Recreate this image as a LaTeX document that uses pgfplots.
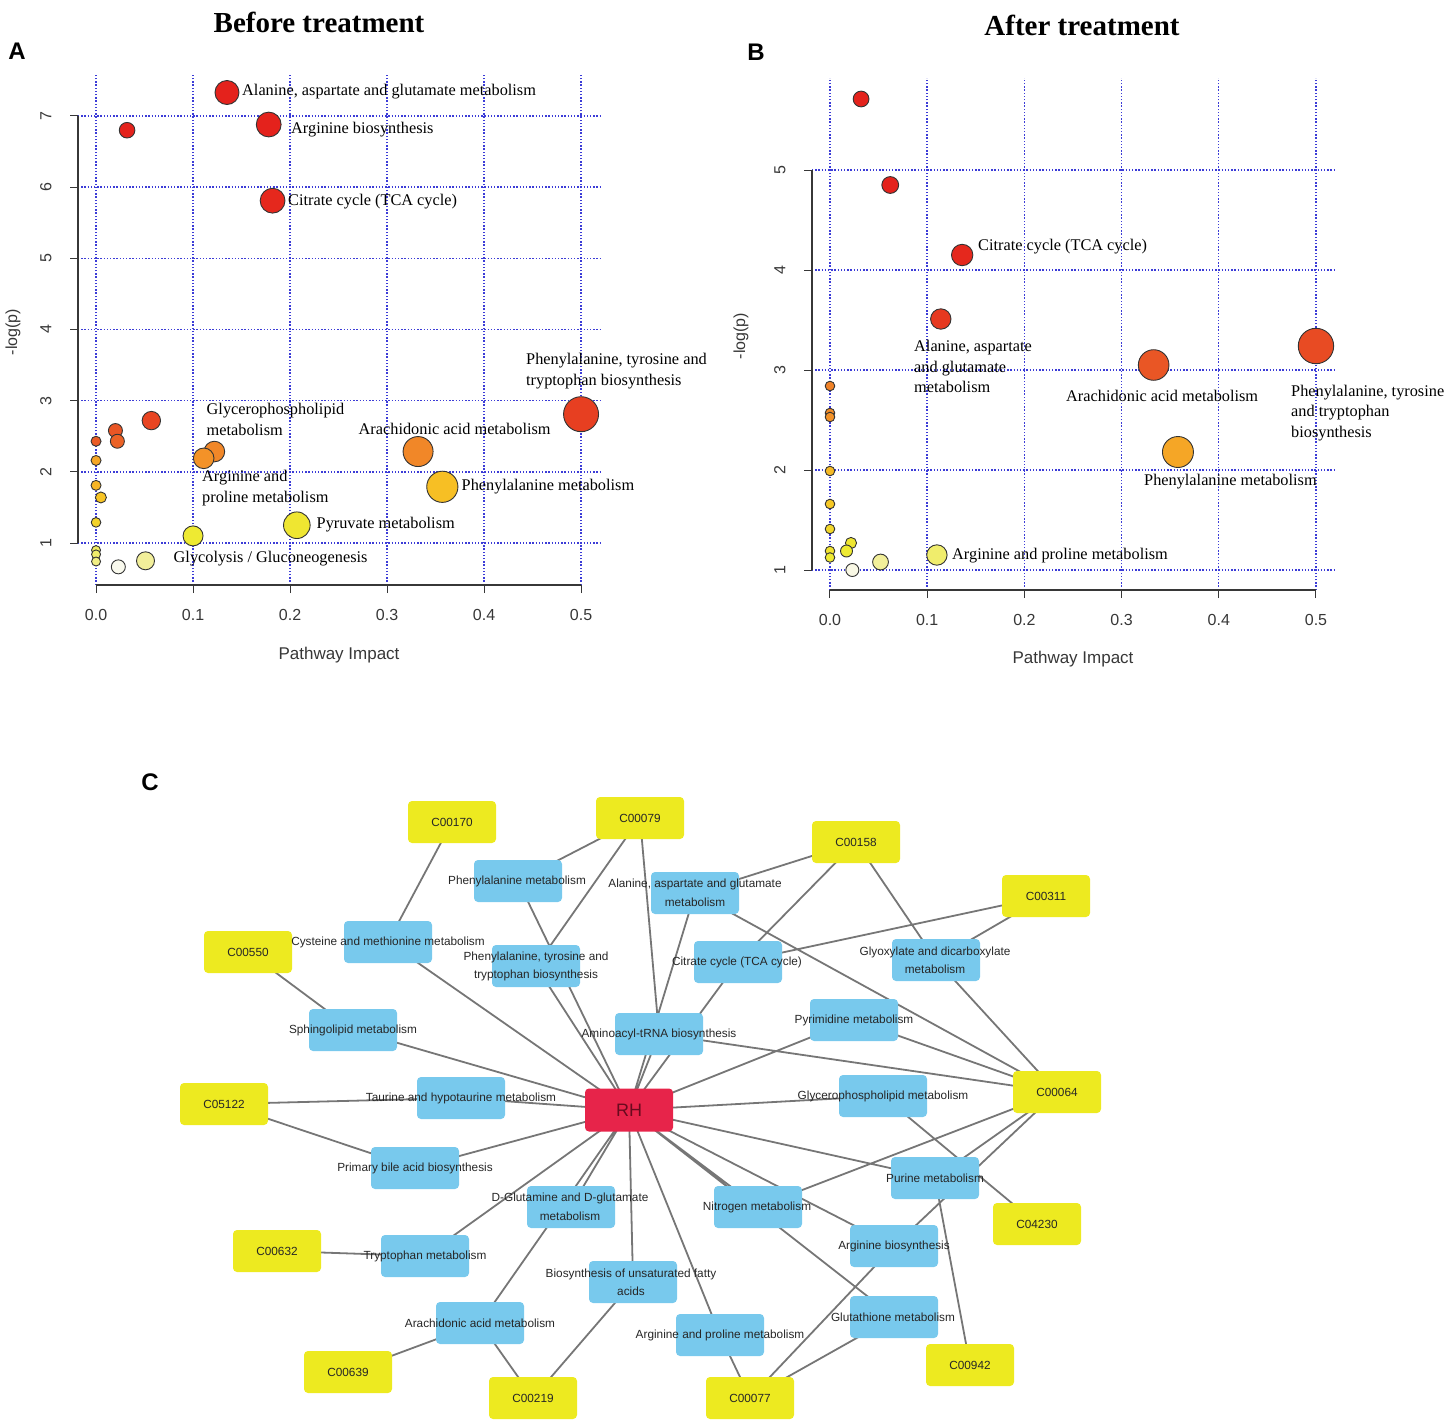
\documentclass[border=0pt]{standalone}
\usepackage{fontspec}
\setmainfont{Liberation Serif}
\setsansfont{Liberation Sans}
\usepackage{pgfplots}
\usepackage{pgfplotstable}
\pgfplotsset{compat=1.18}

\definecolor{gridblue}{RGB}{60,60,215}
\definecolor{axgray}{RGB}{55,55,55}
\definecolor{boxblue}{RGB}{120,201,237}
\definecolor{boxyellow}{RGB}{237,234,32}
\definecolor{boxred}{RGB}{231,36,74}
\definecolor{rhtext}{RGB}{105,10,30}
\definecolor{edgegray}{RGB}{118,118,118}

% Panel A: x = impact, y = -log(p), r = bubble radius (pt), c = colour index
\pgfplotstableread{
x      y      r     c
0.135  7.33   12.0  6.0
0.178  6.88   12.4  6.0
0.032  6.80   7.8   6.0
0.182  5.81   12.4  5.9
0.500  2.81   17.5  5.5
0.057  2.72   9.2   5.4
0.020  2.58   7.0   5.1
0.022  2.43   7.0   4.9
0.000  2.43   5.0   5.0
0.000  2.16   5.0   3.6
0.122  2.285  10.3  4.2
0.111  2.19   10.3  4.0
0.332  2.285  15.0  4.2
0.357  1.79   15.6  3.1
0.000  1.81   5.0   3.3
0.005  1.64   5.5   3.0
0.000  1.29   4.8   2.6
0.207  1.25   13.3  2.1
0.100  1.10   10.0  2.0
0.000  0.90   4.5   1.6
0.000  0.84   4.5   1.5
0.000  0.74   4.5   1.3
0.051  0.75   9.0   1.1
0.023  0.665  7.0   0.1
}\dataA

% Panel B
\pgfplotstableread{
x      y      r     c
0.032  5.71   7.9   6.0
0.062  4.85   8.4   6.0
0.136  4.15   10.7  5.9
0.114  3.51   10.2  5.6
0.333  3.05   15.3  5.1
0.500  3.24   17.7  5.3
0.358  2.18   15.5  3.6
0.000  2.84   4.8   4.3
0.000  2.57   4.8   4.1
0.000  2.53   4.8   4.0
0.000  1.99   4.8   3.2
0.000  1.66   4.8   2.9
0.000  1.41   4.8   2.5
0.000  1.19   4.8   2.2
0.000  1.125  4.8   2.0
0.0216 1.27   5.6   2.1
0.017  1.19   6.0   2.0
0.052  1.08   7.9   1.1
0.023  1.00   6.5   0.2
0.110  1.15   10.2  1.5
}\dataB

% Network nodes (x = pixel x, y = -pixel y)
\pgfplotstableread{
x     y      label
452   -822   C00170
640   -818   C00079
856   -842   C00158
1046  -896   C00311
248   -952   C00550
224   -1104  C05122
1057  -1092  C00064
1037  -1224  C04230
277   -1251  C00632
970   -1365  C00942
348   -1372  C00639
533   -1398  C00219
750   -1398  C00077
}\yellownodes

\pgfplotstableread{
x     y
518   -881
695   -893
388   -942
536   -966
738   -962
936   -960
353   -1030
659   -1034
854   -1020
461   -1098
883   -1096
415   -1168
571   -1207
758   -1207
935   -1178
894   -1246
425   -1256
633   -1282
894   -1317
480   -1323
720   -1335
}\blueboxes

\pgfplotstableread{
x     y      label
517   -881   {Phenylalanine metabolism}
695   -884   {Alanine, aspartate and glutamate}
695   -902   {metabolism}
388   -942   {Cysteine and methionine metabolism}
536   -957   {Phenylalanine, tyrosine and}
536   -975   {tryptophan biosynthesis}
737   -962   {Citrate cycle (TCA cycle)}
935   -952   {Glyoxylate and dicarboxylate}
935   -969   {metabolism}
353   -1030  {Sphingolipid metabolism}
659   -1034  {Aminoacyl-tRNA biosynthesis}
854   -1020  {Pyrimidine metabolism}
461   -1098  {Taurine and hypotaurine metabolism}
883   -1096  {Glycerophospholipid metabolism}
415   -1168  {Primary bile acid biosynthesis}
570   -1198  {D-Glutamine and D-glutamate}
570   -1216  {metabolism}
757   -1207  {Nitrogen metabolism}
935   -1178  {Purine metabolism}
894   -1246  {Arginine biosynthesis}
425   -1256  {Tryptophan metabolism}
631   -1274  {Biosynthesis of unsaturated fatty}
631   -1291  {acids}
893   -1317  {Glutathione metabolism}
480   -1323  {Arachidonic acid metabolism}
720   -1335  {Arginine and proline metabolism}
}\bluelabels

\pgfplotstableread{
x     y      label
629   -1110  RH
}\rhnode

\newcommand\lab{\fontsize{16.3}{20.5}\selectfont}
\newcommand\tickf{\sffamily\fontsize{16}{16}\selectfont}
\newcommand\netf{\sffamily\fontsize{11.8}{13}\selectfont}

\pgfplotsset{
  rplot/.style={
    scale only axis, width=524pt,
    axis x line*=bottom, axis y line*=left,
    axis line style={draw=none},
    tick align=outside,
    major tick length=8pt,
    tick style={axgray, line width=1pt},
    grid=major,
    major grid style={gridblue, line width=1.4pt, dash pattern=on 1.4pt off 1.8pt},
    /pgf/number format/assume math mode=true,
    xtick={0,0.1,0.2,0.3,0.4,0.5},
    xticklabels={0.0,0.1,0.2,0.3,0.4,0.5},
    xticklabel style={font=\tickf, text=axgray, yshift=-13pt},
    yticklabel style={font=\tickf, text=axgray, xshift=-15pt, rotate=90, anchor=south},
    clip=false,
    colormap={heat}{rgb255(0)=(250,250,245) rgb255(1)=(243,240,165) rgb255(2)=(238,234,50) rgb255(3)=(247,196,36) rgb255(4)=(243,146,40) rgb255(5)=(234,92,38) rgb255(6)=(228,34,28)},
    point meta min=0, point meta max=6,
  },
  bubbles/.style={scatter, only marks, mark=*, point meta=explicit,
    scatter/use mapped color={draw=black!80, fill=mapped color},
    visualization depends on={\thisrow{r} \as \rad},
    scatter/@pre marker code/.append style={/tikz/mark size=\rad},
    mark options={line width=0.9pt}},
}

\begin{document}
\begin{tikzpicture}
\useasboundingbox (0,0) rectangle (1449pt,-1427pt);

% ---------- Panel A ----------
\begin{axis}[rplot, at={(78pt,-585pt)}, anchor=south west, height=511pt,
  xmin=-0.0186, xmax=0.5216, ymin=0.41, ymax=7.59, ytick={1,2,3,4,5,6,7}]
\addplot[bubbles] table[x=x, y=y, meta=c] {\dataA};
\addplot[axgray, line width=1.1pt, mark=none] coordinates {(0,0.41) (0.5,0.41)};
\addplot[axgray, line width=1.1pt, mark=none] coordinates {(-0.0186,1) (-0.0186,7)};
\end{axis}

% ---------- Panel B ----------
\begin{axis}[rplot, at={(812pt,-590pt)}, anchor=south west, height=512pt,
  xmin=-0.0185, xmax=0.5206, ymin=0.8, ymax=5.92, ytick={1,2,3,4,5}]
\addplot[bubbles] table[x=x, y=y, meta=c] {\dataB};
\addplot[axgray, line width=1.1pt, mark=none] coordinates {(0,0.8) (0.5,0.8)};
\addplot[axgray, line width=1.1pt, mark=none] coordinates {(-0.0185,1) (-0.0185,5)};
\end{axis}

% ---------- Panel C (network) ----------
\begin{axis}[at={(0pt,-1427pt)}, anchor=south west, scale only axis,
  width=1449pt, height=727pt, xmin=0, xmax=1449, ymin=-1427, ymax=-700,
  hide axis, clip=false]
\addplot[edgegray, line width=1.8pt, mark=none, unbounded coords=jump] coordinates {
(452,-822) (388,-942) (nan,nan)
(640,-818) (518,-881) (nan,nan)
(640,-818) (536,-966) (nan,nan)
(640,-818) (659,-1034) (nan,nan)
(518,-881) (629,-1110) (nan,nan)
(536,-966) (629,-1110) (nan,nan)
(695,-893) (856,-842) (nan,nan)
(695,-893) (629,-1110) (nan,nan)
(695,-893) (1057,-1092) (nan,nan)
(738,-962) (856,-842) (nan,nan)
(738,-962) (1046,-896) (nan,nan)
(738,-962) (629,-1110) (nan,nan)
(936,-960) (856,-842) (nan,nan)
(936,-960) (1046,-896) (nan,nan)
(936,-960) (1057,-1092) (nan,nan)
(659,-1034) (1057,-1092) (nan,nan)
(854,-1020) (1057,-1092) (nan,nan)
(854,-1020) (629,-1110) (nan,nan)
(659,-1034) (629,-1110) (nan,nan)
(883,-1096) (629,-1110) (nan,nan)
(883,-1096) (1037,-1224) (nan,nan)
(935,-1178) (1057,-1092) (nan,nan)
(758,-1207) (1057,-1092) (nan,nan)
(894,-1246) (1057,-1092) (nan,nan)
(935,-1178) (970,-1365) (nan,nan)
(629,-1110) (935,-1178) (nan,nan)
(629,-1110) (758,-1207) (nan,nan)
(629,-1110) (894,-1246) (nan,nan)
(629,-1110) (894,-1317) (nan,nan)
(894,-1246) (750,-1398) (nan,nan)
(894,-1317) (750,-1398) (nan,nan)
(720,-1335) (750,-1398) (nan,nan)
(629,-1110) (720,-1335) (nan,nan)
(629,-1110) (633,-1282) (nan,nan)
(633,-1282) (533,-1398) (nan,nan)
(629,-1110) (571,-1207) (nan,nan)
(629,-1110) (480,-1323) (nan,nan)
(629,-1110) (425,-1256) (nan,nan)
(425,-1256) (277,-1251) (nan,nan)
(480,-1323) (348,-1372) (nan,nan)
(480,-1323) (533,-1398) (nan,nan)
(629,-1110) (415,-1168) (nan,nan)
(415,-1168) (224,-1104) (nan,nan)
(461,-1098) (629,-1110) (nan,nan)
(461,-1098) (224,-1104) (nan,nan)
(353,-1030) (629,-1110) (nan,nan)
(353,-1030) (248,-952) (nan,nan)
(388,-942) (629,-1110)
};
% blue pathway boxes
\addplot[draw=none, mark=none, nodes near coords={},
  every node near coord/.append style={anchor=center, fill=boxblue, draw=none,
    rounded corners=4pt, minimum width=88pt, minimum height=42pt, inner sep=0pt}]
  table[x=x, y=y] {\blueboxes};
% yellow compound boxes
\addplot[draw=none, mark=none, point meta=explicit symbolic, nodes near coords,
  every node near coord/.append style={anchor=center, fill=boxyellow, draw=none,
    rounded corners=4pt, minimum width=88pt, minimum height=42pt, inner sep=0pt,
    font=\netf, text=black!85}]
  table[x=x, y=y, meta=label] {\yellownodes};
% RH node
\addplot[draw=none, mark=none, point meta=explicit symbolic, nodes near coords,
  every node near coord/.append style={anchor=center, fill=boxred, draw=none,
    rounded corners=4pt, minimum width=88pt, minimum height=43pt, inner sep=0pt,
    font=\sffamily\fontsize{18}{18}\selectfont, text=rhtext}]
  table[x=x, y=y, meta=label] {\rhnode};
% pathway labels
\addplot[draw=none, mark=none, point meta=explicit symbolic, nodes near coords,
  every node near coord/.append style={anchor=center, inner sep=0pt,
    font=\netf, text=black!85}]
  table[x=x, y=y, meta=label] {\bluelabels};
\end{axis}

% ---------- titles, panel letters, axis labels ----------
\node[font=\bfseries\fontsize{29}{29}\selectfont] at (319pt,-22pt) {Before treatment};
\node[font=\bfseries\fontsize{29}{29}\selectfont] at (1082pt,-25pt) {After treatment};
\node[font=\sffamily\bfseries\fontsize{24}{24}\selectfont] at (17pt,-51pt) {A};
\node[font=\sffamily\bfseries\fontsize{24}{24}\selectfont] at (756pt,-52pt) {B};
\node[font=\sffamily\bfseries\fontsize{24}{24}\selectfont] at (150pt,-782pt) {C};

\node[font=\sffamily\fontsize{17}{17}\selectfont, text=axgray] at (339pt,-655pt) {Pathway Impact};
\node[font=\sffamily\fontsize{17}{17}\selectfont, text=axgray] at (1073pt,-659pt) {Pathway Impact};
\node[font=\sffamily\fontsize{16}{16}\selectfont, text=axgray, rotate=90] at (13pt,-332pt) {-log(p)};
\node[font=\sffamily\fontsize{16}{16}\selectfont, text=axgray, rotate=90] at (741pt,-336pt) {-log(p)};

% ---------- bubble labels A ----------
\begin{scope}[every node/.style={anchor=west, inner sep=0pt, font=\lab, align=left}]
\node at (242pt,-92pt) {Alanine, aspartate and glutamate metabolism};
\node at (291pt,-130pt) {Arginine biosynthesis};
\node at (288pt,-201.5pt) {Citrate cycle (TCA cycle)};
\node at (526pt,-371pt) {Phenylalanine, tyrosine and\\tryptophan biosynthesis};
\node at (206.5pt,-419.5pt) {Glycerophospholipid\\metabolism};
\node at (358.5pt,-429pt) {Arachidonic acid metabolism};
\node at (202pt,-488pt) {Arginine and\\proline metabolism};
\node at (461.5pt,-487pt) {Phenylalanine metabolism};
\node at (316.5pt,-525pt) {Pyruvate metabolism};
\node at (173.5pt,-559pt) {Glycolysis / Gluconeogenesis};
% ---------- bubble labels B ----------
\node at (978pt,-246.5pt) {Citrate cycle (TCA cycle)};
\node at (914pt,-366.5pt) {Alanine, aspartate\\and glutamate\\metabolism};
\node at (1066pt,-395.5pt) {Arachidonic acid metabolism};
\node at (1291pt,-413pt) {Phenylalanine, tyrosine\\and tryptophan\\biosynthesis};
\node at (1144pt,-482pt) {Phenylalanine metabolism};
\node at (952pt,-556pt) {Arginine and proline metabolism};
\end{scope}
\end{tikzpicture}
\end{document}
